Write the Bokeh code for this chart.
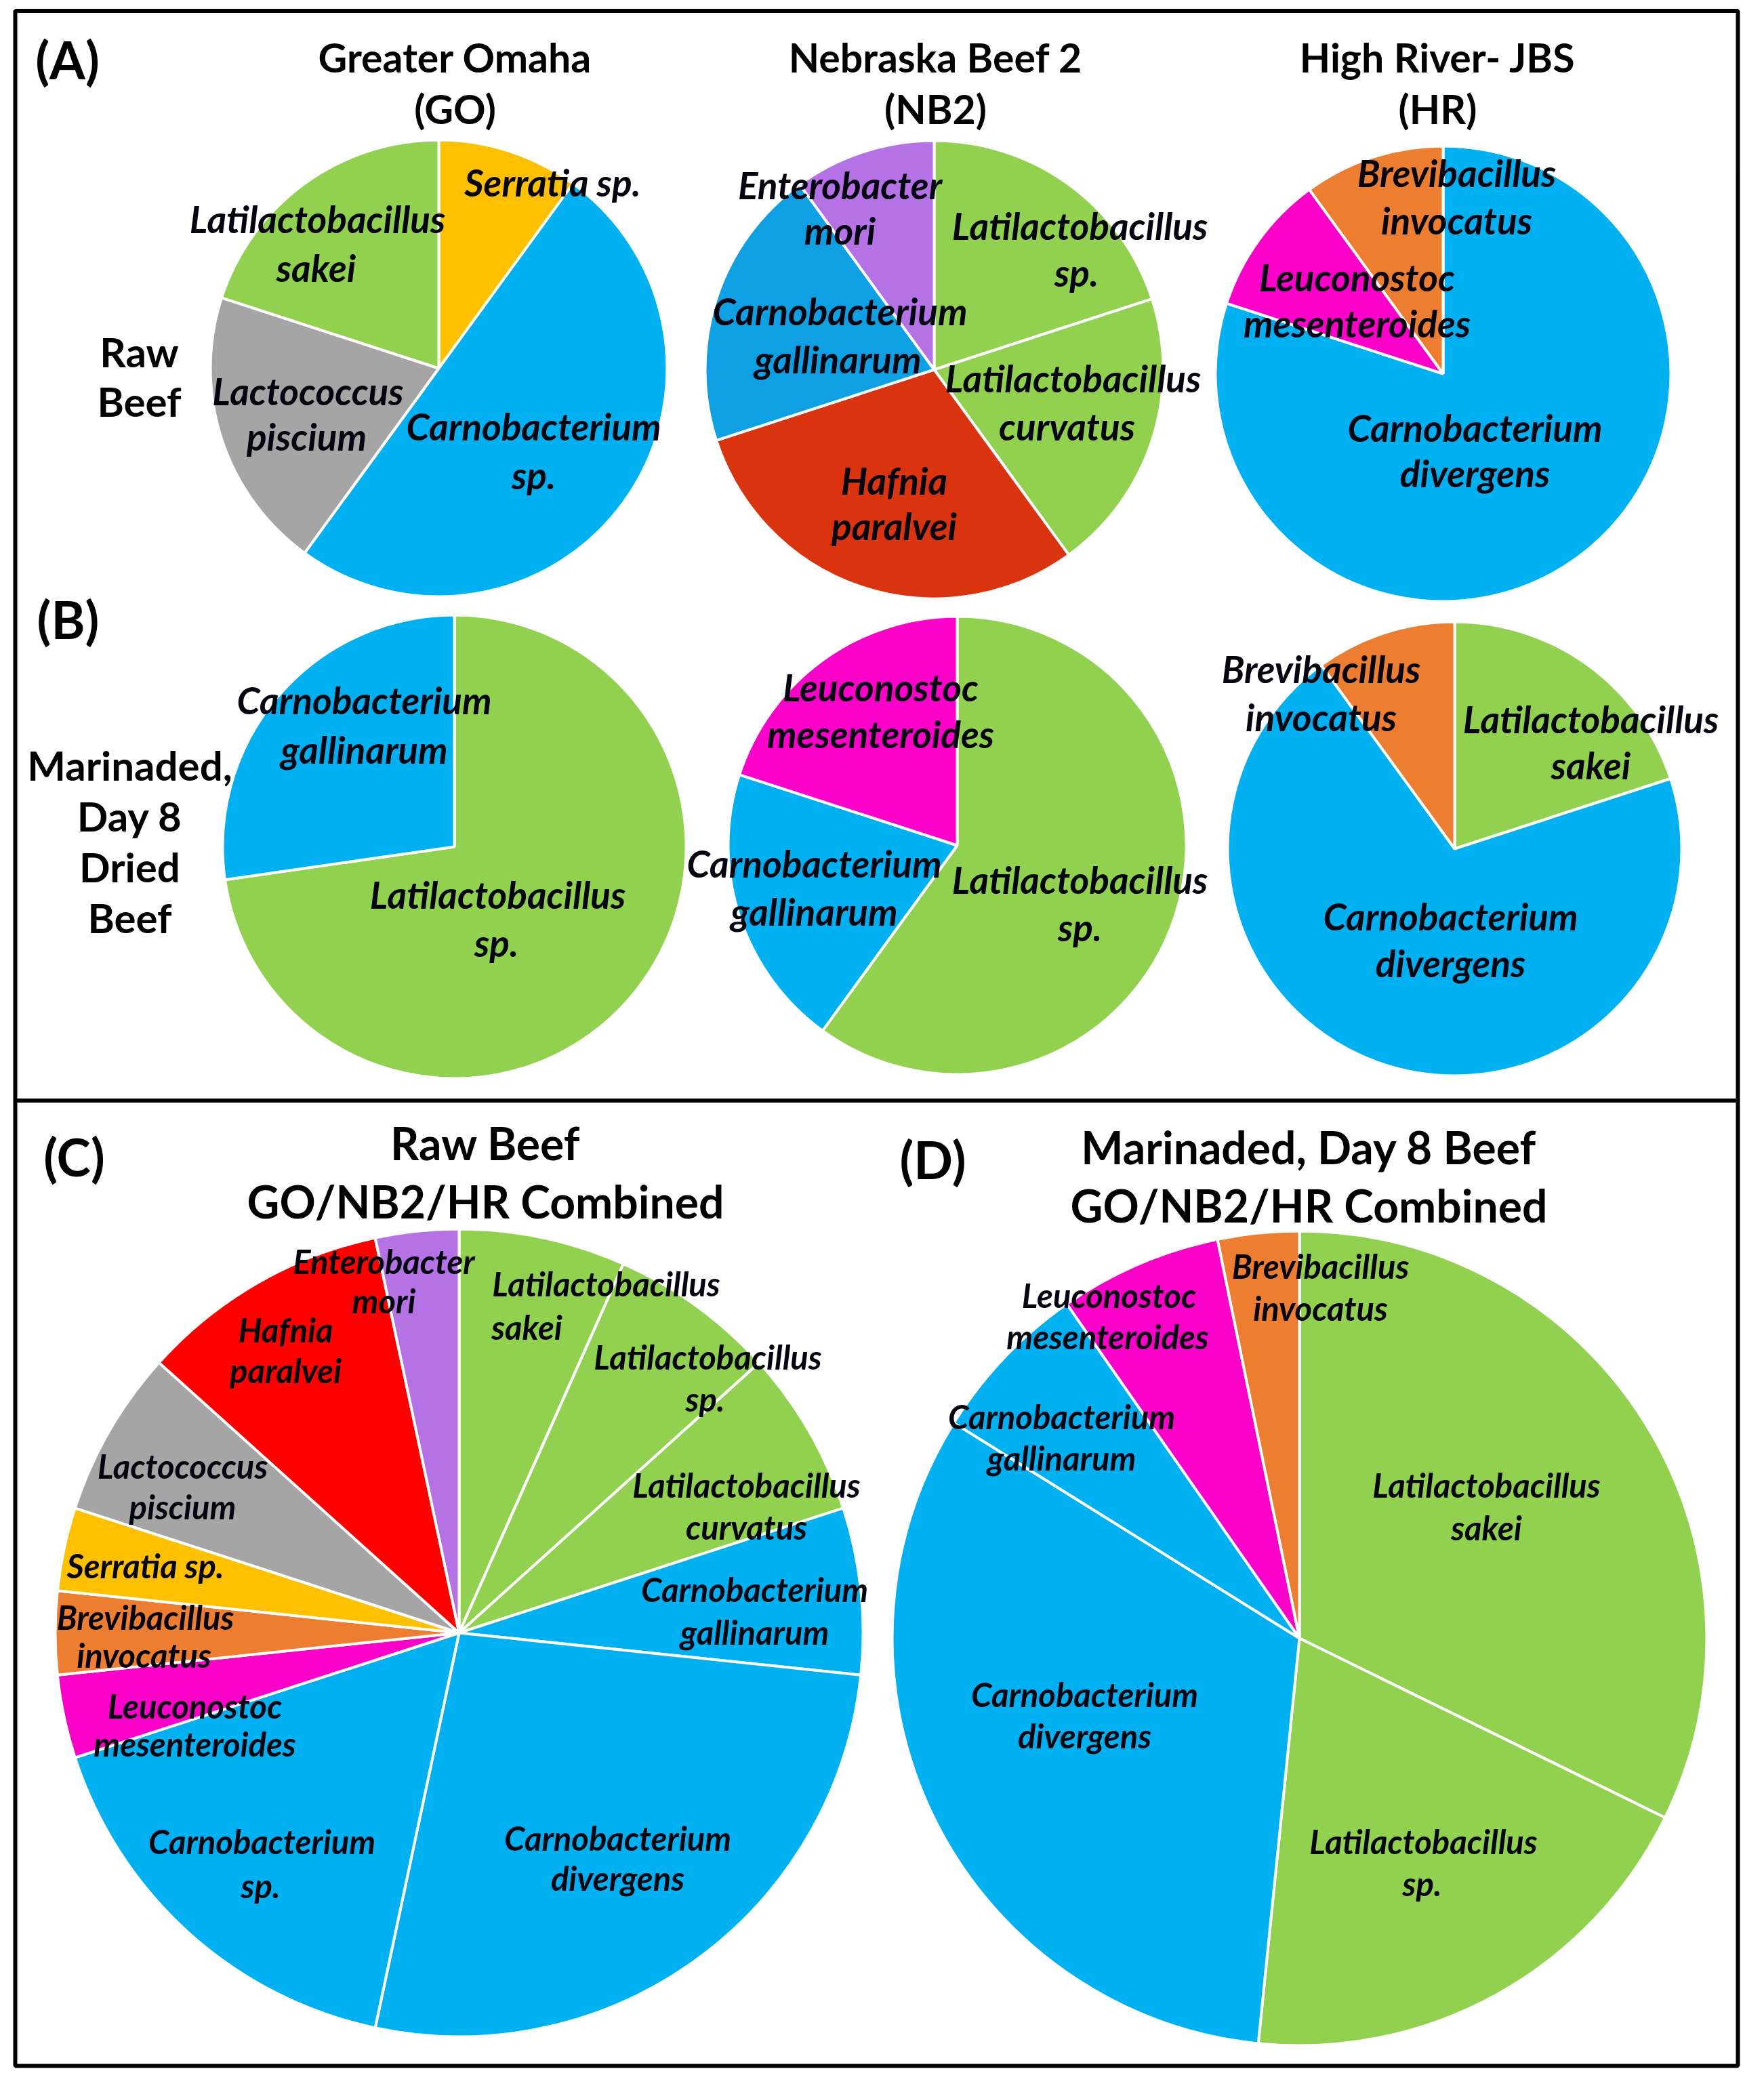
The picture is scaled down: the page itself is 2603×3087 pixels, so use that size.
import math
from bokeh.plotting import figure
from bokeh.models import Range1d, ColumnDataSource
from bokeh.core.properties import value
from bokeh.embed import file_html
from bokeh.resources import INLINE

# ---------------- data ----------------
go_raw_species = ["Serratia sp.", "Carnobacterium sp.", "Lactococcus piscium", "Latilactobacillus sakei"]
go_raw_counts = [1, 5, 2, 2]

nb2_raw_species = ["Latilactobacillus sp.", "Latilactobacillus curvatus", "Hafnia paralvei",
                   "Carnobacterium gallinarum", "Enterobacter mori"]
nb2_raw_counts = [2, 2, 3, 2, 1]

hr_raw_species = ["Carnobacterium divergens", "Leuconostoc mesenteroides", "Brevibacillus invocatus"]
hr_raw_counts = [8, 1, 1]

go_mar_species = ["Latilactobacillus sp.", "Carnobacterium gallinarum"]
go_mar_counts = [8, 3]

nb2_mar_species = ["Latilactobacillus sp.", "Carnobacterium gallinarum", "Leuconostoc mesenteroides"]
nb2_mar_counts = [3, 1, 1]

hr_mar_species = ["Latilactobacillus sakei", "Carnobacterium divergens", "Brevibacillus invocatus"]
hr_mar_counts = [2, 7, 1]

raw_comb_species = ["Latilactobacillus sakei", "Latilactobacillus sp.", "Latilactobacillus curvatus",
                    "Carnobacterium gallinarum", "Carnobacterium divergens", "Carnobacterium sp.",
                    "Leuconostoc mesenteroides", "Brevibacillus invocatus", "Serratia sp.",
                    "Lactococcus piscium", "Hafnia paralvei", "Enterobacter mori"]
raw_comb_counts = [2, 2, 2, 2, 8, 5, 1, 1, 1, 2, 3, 1]

mar_comb_species = ["Latilactobacillus sakei", "Latilactobacillus sp.", "Carnobacterium divergens",
                    "Carnobacterium gallinarum", "Leuconostoc mesenteroides", "Brevibacillus invocatus"]
mar_comb_counts = [10, 6, 10, 2, 2, 1]

column_titles = [["Greater Omaha", "(GO)"], ["Nebraska Beef 2", "(NB2)"], ["High River- JBS", "(HR)"]]
row_titles = [["Raw", "Beef"], ["Marinaded,", "Day 8", "Dried", "Beef"]]
panel_letters = ["(A)", "(B)", "(C)", "(D)"]
combined_titles = [["Raw Beef", "GO/NB2/HR Combined"], ["Marinaded, Day 8 Beef", "GO/NB2/HR Combined"]]

# ---------------- styles ----------------
GREEN = "#92D050"
BLUE = "#00B0F0"
species_color = {
    "Latilactobacillus sakei": GREEN, "Latilactobacillus sp.": GREEN, "Latilactobacillus curvatus": GREEN,
    "Carnobacterium gallinarum": BLUE, "Carnobacterium divergens": BLUE, "Carnobacterium sp.": BLUE,
    "Leuconostoc mesenteroides": "#FA00C8", "Brevibacillus invocatus": "#ED7D31",
    "Serratia sp.": "#FFC000", "Lactococcus piscium": "#A5A5A5",
    "Hafnia paralvei": "#FF0000", "Enterobacter mori": "#B572E4",
}
nb2_override = {"Hafnia paralvei": "#D9340F", "Carnobacterium gallinarum": "#0FA0E3"}

W, H = 2603, 3087
FONT = value("Lato")

p = figure(width=W - 16, height=H - 16, x_range=Range1d(8, W - 8), y_range=Range1d(8, H - 8),
           output_backend="svg", toolbar_location=None, min_border=0)
p.axis.visible = False
p.grid.visible = False
p.outline_line_color = None
p.background_fill_color = "white"
p.border_fill_color = "white"


def Y(py):
    return H - py


def pie(species, counts, cx, cy, r, override=None):
    tot = float(sum(counts))
    cum = 0.0
    starts, ends, cols = [], [], []
    for s, c in zip(species, counts):
        a = cum / tot
        b = (cum + c) / tot
        cum += c
        starts.append(math.pi / 2 - 2 * math.pi * b)
        ends.append(math.pi / 2 - 2 * math.pi * a)
        col = species_color[s]
        if override and s in override:
            col = override[s]
        cols.append(col)
    src = ColumnDataSource(dict(x=[cx] * len(counts), y=[Y(cy)] * len(counts),
                                s=starts, e=ends, c=cols))
    p.wedge(x="x", y="y", radius=r, start_angle="s", end_angle="e", fill_color="c",
            line_color="white", line_width=4, source=src)


def split_name(s):
    if s == "Serratia sp.":
        return [s]
    return s.split(" ", 1)


def labels(species, pos, fs, dy):
    xs, ys, ts = [], [], []
    for s, pp in zip(species, pos):
        lines = split_name(s)
        for i, line in enumerate(lines):
            xs.append(pp[2 * i])
            ys.append(Y(pp[2 * i + 1] + dy))
            ts.append(line)
    p.text(x=xs, y=ys, text=ts, text_font=FONT, text_font_style="bold italic",
           text_font_size=f"{fs}px", text_align="center", text_baseline="alphabetic",
           text_color="#050510")


LAB_AB = 55
LAB_CD = 49
DY_AB = 3
DY_CD = 6

pie(go_raw_species, go_raw_counts, 655, 551, 337)
labels(go_raw_species, [(823, 273), (795, 633, 795, 705), (462, 581, 460, 648), (476, 327, 474, 399)],
       LAB_AB, DY_AB)

pie(nb2_raw_species, nb2_raw_counts, 1386, 553, 338, nb2_override)
labels(nb2_raw_species, [(1601, 337, 1596, 406), (1591, 562, 1582, 633), (1327, 713, 1327, 780),
                         (1247, 463, 1244, 534), (1247, 277, 1247, 344)], LAB_AB, DY_AB)

pie(hr_raw_species, hr_raw_counts, 2137, 559, 336)
labels(hr_raw_species, [(2184, 635, 2184, 702), (2010, 413, 2010, 481), (2157, 259, 2157, 329)],
       LAB_AB, DY_AB)

pie(go_mar_species, go_mar_counts, 678, 1257, 342)
labels(go_mar_species, [(742, 1324, 740, 1395), (545, 1037, 545, 1110)], LAB_AB, DY_AB)

pie(nb2_mar_species, nb2_mar_counts, 1420, 1255, 338)
labels(nb2_mar_species, [(1601, 1302, 1601, 1372), (1209, 1278, 1209, 1349), (1307, 1018, 1307, 1087)],
       LAB_AB, DY_AB)

pie(hr_mar_species, hr_mar_counts, 2154, 1260, 335)
labels(hr_mar_species, [(2355, 1065, 2355, 1133), (2148, 1356, 2148, 1425), (1957, 991, 1957, 1062)],
       LAB_AB, DY_AB)

pie(raw_comb_species, raw_comb_counts, 685, 2417, 596)
labels(raw_comb_species, [(902, 1895, 785, 1959), (1052, 2003, 1048, 2065), (1109, 2192, 1109, 2254),
                          (1121, 2346, 1121, 2409), (919, 2713, 919, 2772), (394, 2718, 392, 2783),
                          (295, 2518, 295, 2574), (222, 2387, 220, 2443), (222, 2311),
                          (277, 2164, 277, 2224), (429, 1963, 429, 2023), (574, 1862, 574, 1920)],
       LAB_CD, DY_CD)

pie(mar_comb_species, mar_comb_counts, 1925, 2425, 601)
labels(mar_comb_species, [(2201, 2192, 2201, 2255), (2108, 2718, 2106, 2780), (1608, 2501, 1608, 2562),
                          (1574, 2091, 1574, 2152), (1644, 1912, 1642, 1973), (1956, 1869, 1956, 1931)],
       LAB_CD, DY_CD)


def plain_text(texts, xs, baselines, fs, align="center"):
    p.text(x=xs, y=[Y(b) for b in baselines], text=texts, text_font=FONT, text_font_style="bold",
           text_font_size=f"{fs}px", text_align=align, text_baseline="alphabetic", text_color="black")


TITLE_FS = 59
for t, cx in zip(column_titles, [679, 1388, 2129]):
    plain_text(t, [cx, cx], [92, 168], TITLE_FS)

plain_text(row_titles[0], [213, 213], [526, 599], 60)
plain_text(row_titles[1], [199, 199, 199, 199], [1136, 1211, 1286, 1361], 60)

plain_text(panel_letters, [107, 108, 117, 1384], [95, 921, 1714, 1718], 76)

plain_text(combined_titles[0], [724, 724], [1694, 1780], 66)
plain_text(combined_titles[1], [1939, 1939], [1700, 1786], 66)

p.quad(left=[30, 30], right=[2572, 2572], top=[Y(23.5), Y(1631.5)], bottom=[Y(1631.5), Y(3056)],
       fill_color=None, line_color="black", line_width=6)

open("out.html", "w").write(file_html(p, INLINE))
